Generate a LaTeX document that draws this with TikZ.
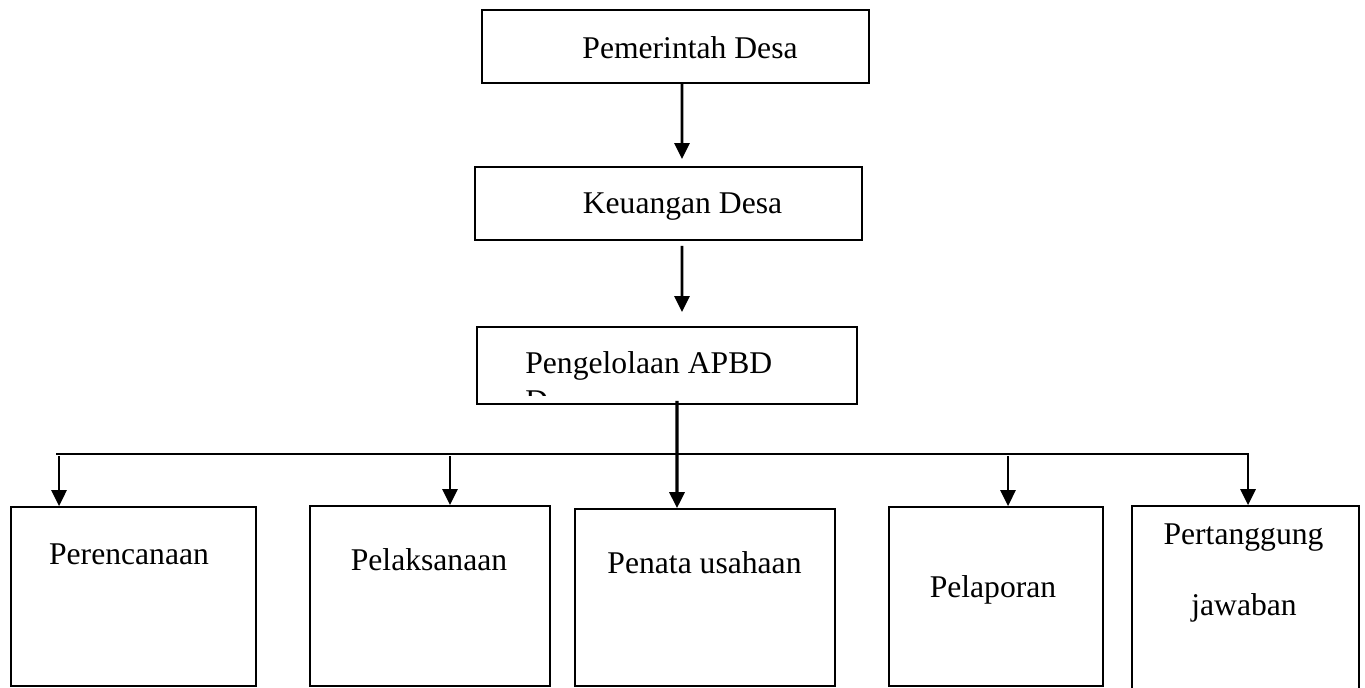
\documentclass[tikz,border=0pt]{standalone}
\usepackage{fontspec}
\setmainfont{Liberation Serif}
\usetikzlibrary{arrows.meta, positioning}

\begin{document}
\begin{tikzpicture}[
        x=0.02cm, y=-0.02cm,
        box/.style={rectangle, draw=black, line width=1pt, inner sep=0pt},
        txt/.style={font=\fontsize{18}{22}\selectfont, inner sep=0pt, anchor=base},
        arrow/.style={-{Triangle[width=0.3cm, length=0.32cm]}, line width=1.6pt, color=black}
    ]
        \clip (0,0) rectangle (1365,687);

        % Kotak atas
        \node[box, minimum width=7.74cm, minimum height=1.46cm] (pemdes) at (675.5,46.5) {};
        \node[txt] (pemdesT) at (690,58) {Pemerintah Desa};

        \node[box, minimum width=7.74cm, minimum height=1.46cm] (keudes) at (668.5,203.5) {};
        \node[txt] (keudesT) at (682.5,213) {Keuangan Desa};

        \node[box, minimum width=7.6cm, minimum height=1.54cm] (apbd) at (667,365.5) {};
        \begin{scope}
            \clip (apbd.north west) rectangle ([yshift=0.18cm]apbd.south east);
            \node[txt, anchor=base west] (apbdT) at (525,373) {Pengelolaan APBD};
            \node[txt, anchor=base west] (apbdT2) at (525,411) {Desa};
        \end{scope}

        % Kotak bawah
        \node[box, minimum width=4.9cm, minimum height=3.58cm] (renc) at (133.5,596.5) {};
        \node[txt] (rencT) at (129,564) {Perencanaan};

        \node[box, minimum width=4.8cm, minimum height=3.6cm] (laks) at (430,596) {};
        \node[txt] (laksT) at (429,570) {Pelaksanaan};

        \node[box, minimum width=5.2cm, minimum height=3.54cm] (tata) at (705,597.5) {};
        \node[txt] (tataT) at (704.5,573) {Penata usahaan};

        \node[box, minimum width=4.28cm, minimum height=3.58cm] (lapor) at (996,596.5) {};
        \node[txt] (laporT) at (993,597) {Pelaporan};

        \node[box, minimum width=4.54cm, minimum height=3.88cm] (tgjwb) at (1245.5,603) {};
        \node[txt] (tgjwbT) at (1243.5,544) {Pertanggung};
        \node[txt] (tgjwbT2) at (1244,615) {jawaban};

        % Panah
        \draw[arrow, shorten >=0.14cm] ([xshift=0.13cm]pemdes.south) -- ([xshift=0.27cm]keudes.north);
        \draw[arrow, shorten <=0.1cm, shorten >=0.28cm] ([xshift=0.27cm]keudes.south) -- ([xshift=0.3cm]apbd.north);
        \draw[arrow, line width=1.8pt] ([xshift=0.2cm, yshift=0.08cm]apbd.south) -- ([xshift=-0.56cm]tata.north);

        \coordinate (busL) at (56,454);
        \coordinate (busR) at (1248,454);
        \draw[line width=1.5pt] (busL) -- (busR);

        \draw[arrow] ([xshift=-1.49cm, yshift=1.0cm]renc.north) -- ([xshift=-1.49cm]renc.north);
        \draw[arrow] ([xshift=0.4cm, yshift=0.98cm]laks.north) -- ([xshift=0.4cm]laks.north);
        \draw[arrow] ([xshift=0.24cm, yshift=1.0cm]lapor.north) -- ([xshift=0.24cm]lapor.north);
        \draw[arrow] ([xshift=0.05cm, yshift=1.04cm]tgjwb.north) -- ([xshift=0.05cm]tgjwb.north);
\end{tikzpicture}
\end{document}
